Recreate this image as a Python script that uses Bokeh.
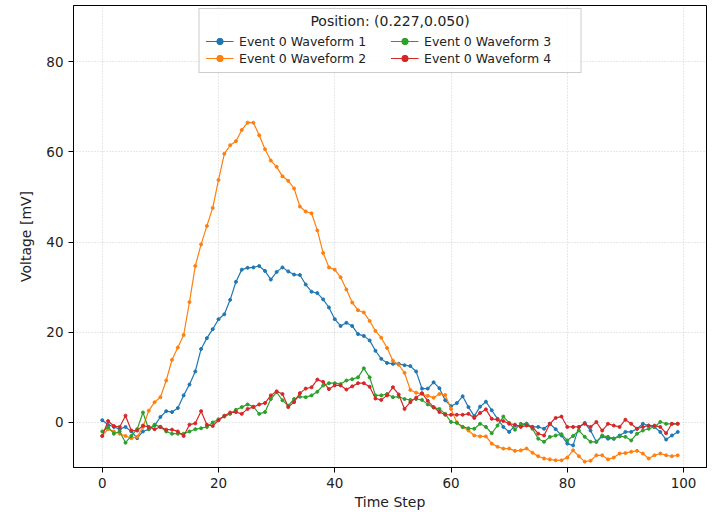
from bokeh.plotting import figure
from bokeh.models import Range1d, FixedTicker, Label, ColumnDataSource, BoxAnnotation
from bokeh.embed import file_html
from bokeh.resources import INLINE

time_step = list(range(100))

waveform_1 = [0.5, -0.5, -1.0, -1.5, -1.0, -2.0, -3.5, -2.0, -1.5, -0.7,
              1.2, 2.5, 2.3, 3.2, 6.0, 8.4, 11.3, 16.3, 18.7, 20.7,
              22.9, 24.0, 27.2, 31.2, 33.9, 34.3, 34.4, 34.7, 33.6, 31.7,
              33.4, 34.4, 33.5, 32.8, 32.7, 30.6, 29.0, 28.7, 27.3, 25.5,
              22.9, 21.4, 22.1, 21.4, 19.6, 19.2, 18.2, 15.9, 14.1, 13.2,
              13.0, 13.0, 12.7, 12.5, 11.3, 7.5, 7.5, 8.9, 7.6, 4.9,
              3.6, 4.3, 5.8, 3.4, 1.4, 3.5, 4.6, 2.7, 0.8, -1.0,
              -2.1, -0.7, -0.7, -0.3, -1.0, -1.0, -1.4, -0.3, -1.5, -2.9,
              -4.7, -5.1, -1.0, -0.1, -1.8, -4.3, -3.1, -3.6, -3.6, -2.9,
              -2.1, -2.1, -1.4, -0.3, -0.7, -1.0, -2.1, -3.8, -2.9, -2.1]

waveform_2 = [-3.0, -1.5, -2.0, -2.5, -3.0, -3.5, -3.2, -1.0, 2.6, 4.5,
              5.6, 9.3, 13.9, 16.6, 19.4, 26.7, 34.7, 39.5, 43.6, 47.6,
              53.8, 59.6, 61.5, 62.4, 64.9, 66.5, 66.5, 63.7, 60.6, 58.1,
              56.7, 54.6, 53.6, 51.9, 47.9, 46.8, 46.4, 42.6, 37.6, 34.4,
              33.9, 32.2, 29.5, 26.6, 24.9, 24.4, 22.5, 20.3, 18.8, 16.5,
              13.7, 12.8, 11.0, 7.2, 6.6, 6.3, 5.9, 5.5, 6.3, 6.1,
              3.0, 0.0, -1.0, -1.8, -2.9, -3.1, -3.1, -4.7, -5.4, -5.8,
              -5.8, -6.3, -6.2, -5.8, -6.7, -7.5, -8.0, -8.2, -8.4, -8.4,
              -7.8, -6.2, -7.5, -8.7, -8.5, -7.3, -7.3, -8.2, -7.8, -6.9,
              -6.8, -6.5, -6.3, -6.9, -8.0, -7.3, -6.9, -7.3, -7.5, -7.3]

waveform_3 = [-2.0, -1.0, -2.5, -2.0, -4.5, -3.0, -1.5, 2.2, -1.5, -0.5,
              -1.0, -2.0, -2.5, -2.5, -2.5, -2.0, -1.5, -1.3, -1.0, 0.0,
              0.7, 1.3, 1.9, 2.8, 3.4, 4.0, 3.5, 1.9, 2.3, 5.2,
              6.7, 4.9, 3.7, 5.2, 5.7, 5.6, 6.0, 6.8, 8.2, 8.7,
              8.7, 8.5, 9.3, 9.6, 10.0, 12.0, 10.0, 6.0, 6.0, 6.3,
              5.6, 5.7, 5.2, 5.0, 5.2, 5.0, 4.0, 3.3, 3.0, 1.9,
              0.1, -0.1, -1.0, -1.3, -1.4, -0.3, -1.0, -2.4, -0.7, 1.3,
              -0.1, -1.6, -0.3, -0.3, -1.4, -3.6, -4.3, -3.2, -2.9, -2.6,
              -4.0, -3.0, -1.8, -3.2, -4.3, -4.3, -2.9, -3.2, -3.6, -3.1,
              -3.2, -4.0, -2.5, -1.8, -1.4, -1.0, 0.1, -0.3, -0.3, -0.3]

waveform_4 = [-3.0, 0.3, -0.8, -1.0, 1.5, -1.8, -1.8, -0.7, -1.0, -1.5,
              -1.0, -1.6, -1.6, -2.0, -3.0, -0.5, -0.2, 2.5, -0.5, -0.8,
              0.5, 1.5, 2.2, 2.3, 1.9, 3.0, 3.4, 4.0, 4.3, 6.0,
              6.9, 6.3, 3.4, 4.5, 6.5, 7.5, 7.8, 9.5, 9.0, 7.4,
              8.2, 8.2, 7.3, 8.0, 8.7, 8.7, 7.9, 5.3, 5.0, 6.0,
              7.8, 6.2, 3.0, 4.5, 5.5, 6.5, 4.8, 3.4, 2.3, 1.7,
              1.7, 1.7, 1.7, 1.9, 1.0, 2.1, 2.9, 0.8, 0.6, 0.3,
              -0.3, -0.5, -1.0, -0.7, -1.0, -2.5, -2.9, -0.3, 1.0, 1.3,
              -1.0, -1.0, -1.0, -0.3, -1.0, 0.1, -1.8, -0.3, -0.7, -1.0,
              0.6, -0.3, -1.4, -1.0, -0.7, -0.7, -1.0, -2.4, -0.3, -0.3]

series_labels = ["Event 0 Waveform 1", "Event 0 Waveform 2",
                 "Event 0 Waveform 3", "Event 0 Waveform 4"]
series_colors = ["#1f77b4", "#ff7f0e", "#2ca02c", "#d62728"]
legend_title = "Position: (0.227,0.050)"
x_ticks = [0, 20, 40, 60, 80, 100]
y_ticks = [0, 20, 40, 60, 80]

FONT = "DejaVu Sans"

p = figure(width=712, height=512, output_backend="svg", toolbar_location=None,
           x_range=Range1d(-4.95, 103.95), y_range=Range1d(-10.0, 92.5),
           min_border_left=73, min_border_right=6, min_border_top=5, min_border_bottom=45)
p.background_fill_color = "white"
p.border_fill_color = "white"
p.outline_line_color = "black"
p.outline_line_alpha = 1.0
p.outline_line_width = 1

for ax, ticks in ((p.xaxis, x_ticks), (p.yaxis, y_ticks)):
    ax.ticker = FixedTicker(ticks=ticks)
    ax.minor_tick_line_color = None
    ax.major_tick_out = 5
    ax.major_tick_in = 0
    ax.axis_line_color = "black"
    ax.major_tick_line_color = "black"
    ax.major_label_text_font = FONT
    ax.major_label_text_font_size = "13.5px"
    ax.major_label_text_color = "#222222"
    ax.axis_label_text_font = FONT
    ax.axis_label_text_font_size = "14px"
    ax.axis_label_text_font_style = "normal"
    ax.axis_label_text_color = "#222222"

p.xaxis.axis_label = "Time Step"
p.yaxis.axis_label = "Voltage [mV]"
p.xaxis.axis_label_standoff = 3
p.yaxis.axis_label_standoff = 9

for g in (p.xgrid, p.ygrid):
    g.grid_line_color = "#b0b0b0"
    g.grid_line_alpha = 0.6
    g.grid_line_dash = "1 2"
    g.grid_line_width = 1

# translucent white panel behind the legend (matplotlib-like framealpha)
legend_bg = BoxAnnotation(left=16.8, right=82.3, top=91.85, bottom=77.6,
                          fill_color="white", fill_alpha=0.8, line_color=None,
                          level="underlay")
p.add_layout(legend_bg)

series = [waveform_1, waveform_2, waveform_3, waveform_4]
for vals, lab, col in zip(series, series_labels, series_colors):
    src = ColumnDataSource(dict(x=time_step, y=vals))
    p.line("x", "y", source=src, line_color=col, line_width=1.2, legend_label=lab)
    p.scatter("x", "y", source=src, size=3, fill_color=col, line_color=col,
              legend_label=lab)

lg = p.legend[0]
lg.location = "top_center"
lg.ncols = 2
lg.title = " "
lg.title_text_font_size = "14px"
lg.title_standoff = 2
lg.label_text_font = FONT
lg.label_text_font_size = "12.5px"
lg.label_text_color = "#222222"
lg.label_height = 16
lg.label_width = 150
lg.glyph_height = 16
lg.glyph_width = 28
lg.label_standoff = 6
lg.spacing = 1
lg.padding = 6
lg.margin = 3
lg.border_line_color = "#cccccc"
lg.border_line_alpha = 1.0
lg.background_fill_alpha = 0.0

title_lbl = Label(x=49.5, y=89.0, text=legend_title, text_align="center",
                  text_baseline="middle", text_font=FONT, text_font_size="14px",
                  text_color="#222222", level="overlay")
p.add_layout(title_lbl)

open("out.html", "w").write(file_html(p, INLINE))
